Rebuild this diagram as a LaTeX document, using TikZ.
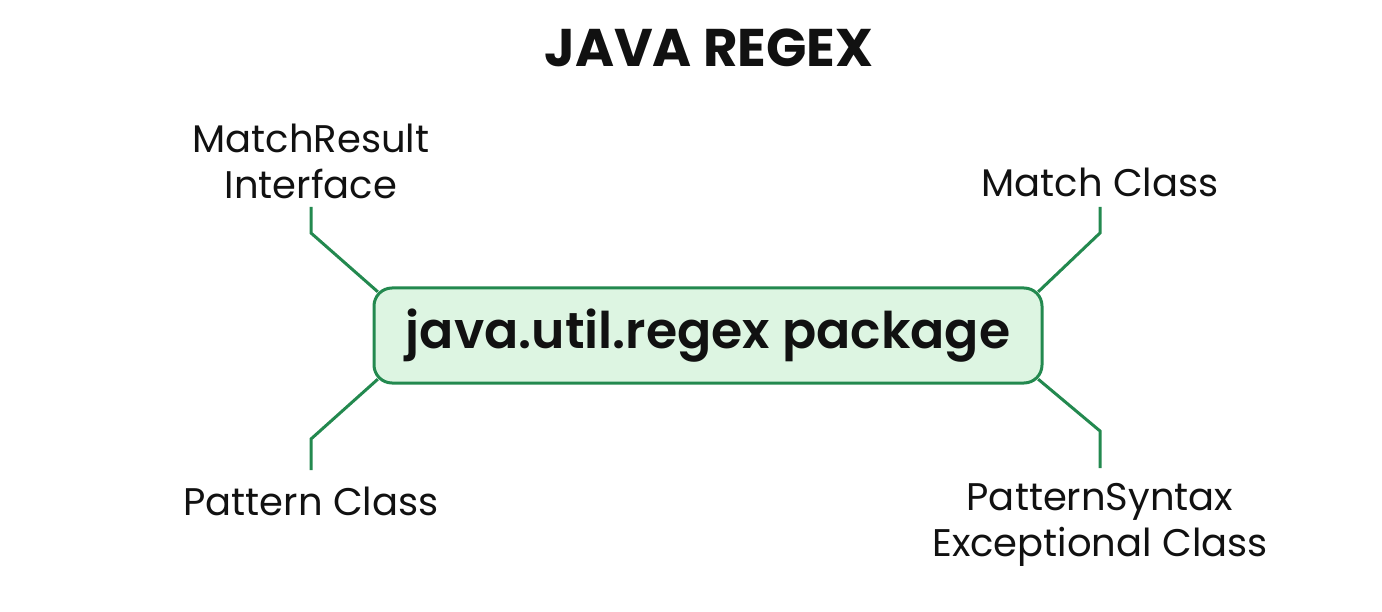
\documentclass[tikz,border=0pt]{standalone}
\usepackage{fontspec}
\setmainfont{Poppins}
\newfontfamily\semib{Poppins SemiBold}
\usetikzlibrary{calc,backgrounds}
\definecolor{lineg}{HTML}{23894F}
\definecolor{boxfill}{HTML}{DDF5E2}
\definecolor{ink}{HTML}{111111}
\tikzset{
  pkgbox/.style={draw=lineg, line width=3pt, fill=boxfill, rounded corners=18pt,
    minimum width=668pt, minimum height=95pt, inner sep=0pt, text=ink,
    font=\fontsize{50.5}{56}\semib},
  lbl/.style={text=ink, align=center, inner sep=0pt,
    font=\fontsize{38.5}{46}\selectfont},
  conn/.style={draw=lineg, line width=3pt},
  ttl/.style={text=ink, inner sep=0pt, font=\fontsize{53}{58}\selectfont\bfseries}
}
\begin{document}
\begin{tikzpicture}[x=1pt,y=-1pt]
\useasboundingbox (0,0) rectangle (1382,612);
\node[ttl] (title) at (709,48) {JAVA REGEX};
\node[pkgbox] (box) at (708,335.5) {java.util.regex package};
\node[lbl, anchor=south] (mr) at (311,199) {MatchResult\\Interface};
\node[lbl, anchor=south] (mc) at (1100,197) {Match Class};
\node[lbl, anchor=north] (pc) at (311,487) {Pattern Class};
\node[lbl, anchor=north] (ps) at (1100,483) {PatternSyntax\\Exceptional Class};
\coordinate (mrt) at (311,207);
\coordinate (mct) at (1100,207);
\coordinate (pct) at (311,470);
\coordinate (pst) at (1100,468);
\coordinate (mrb) at (311,233);
\coordinate (mcb) at (1100,233);
\coordinate (pcb) at (311,439);
\coordinate (psb) at (1100,431);
\begin{scope}[on background layer]
\draw[conn] (mrt) -- (mrb) -- ($(box.north west)+(5.3,5.3)$);
\draw[conn] (mct) -- (mcb) -- ($(box.north east)+(-5.3,5.3)$);
\draw[conn] (pct) -- (pcb) -- ($(box.south west)+(5.3,-5.3)$);
\draw[conn] (pst) -- (psb) -- ($(box.south east)+(-5.3,-5.3)$);
\end{scope}
\end{tikzpicture}
\end{document}
